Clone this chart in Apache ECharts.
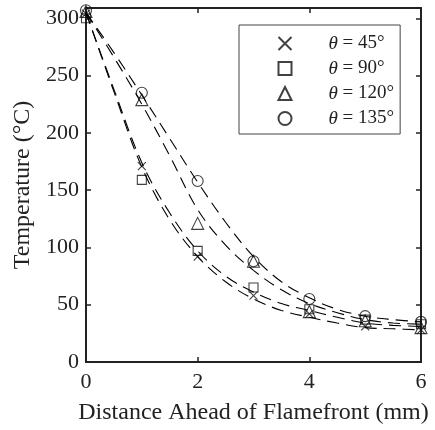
<!DOCTYPE html>
<html><head><meta charset="utf-8">
<script src="https://cdn.jsdelivr.net/npm/echarts@6/dist/echarts.min.js"></script>
<style>html,body{margin:0;padding:0;background:#fff}#c{width:435px;height:430px}</style>
</head><body><div id="c"></div>
<script>
// Measured points
const markerX = [0, 1, 2, 3, 4, 5, 6];
const t45  = [304, 171, 92, 58, 42, 31, 28];
const t90  = [300, 159, 97, 65, 46, 37, 33];
const t120 = [306, 229, 121, 88, 44, 36, 30];
const t135 = [307, 235, 158, 88, 55, 40, 35];
// Dashed fit curves
const curveX = [0, 0.5, 1, 1.5, 2, 2.5, 3, 3.5, 4, 4.5, 5, 5.5, 6];
const c45  = [305, 236, 170, 124, 92, 70, 55, 45, 39, 34, 30, 29, 28];
const c90  = [305, 238, 174, 130, 97, 75, 61, 51, 45, 39, 34, 32, 31];
const c120 = [305, 266, 225, 180, 133, 102, 80, 63, 51, 43, 37, 34, 33];
const c135 = [305, 270, 233, 195, 157, 122, 92, 70, 56, 46, 40, 37, 35];
const names = ['45°', '90°', '120°', '135°'];
const yTicks = [0, 50, 100, 150, 200, 250, 300];

const pts = [t45, t90, t120, t135];
const curves = [c45, c90, c120, c135];
const symbols = ['path://M0,0L10,10M10,0L0,10', 'rect', 'triangle', 'circle'];
const sizes = [8, 9, 12, 11];
const font = '"Liberation Serif", "Times New Roman", serif';

const series = [];
curves.forEach((c, i) => {
  series.push({
    type: 'line', name: 'fit' + i, data: curveX.map((x, k) => [x, c[k]]),
    xAxisIndex: 0, yAxisIndex: 0,
    showSymbol: false, smooth: 0.35, silent: true,
    lineStyle: {color: '#000', width: 1.1, type: [12, 7]}
  });
});
pts.forEach((p, i) => {
  series.push({
    type: 'scatter', name: 'θ = ' + names[i], data: markerX.map((x, k) => [x, p[k]]),
    xAxisIndex: 0, yAxisIndex: 0,
    symbol: symbols[i], symbolSize: sizes[i], clip: false,
    itemStyle: {color: 'none', borderColor: '#111', borderWidth: 1.1}
  });
});

function frame() {
  return {
    axisLine: {show: true, onZero: false, lineStyle: {color: '#222', width: 2}},
    axisTick: {show: true, inside: true, length: 5, lineStyle: {color: '#222', width: 1.5}},
    splitLine: {show: false}
  };
}

const chart = echarts.init(document.getElementById('c'));
chart.setOption({
  animation: false,
  backgroundColor: '#fff',
  grid: {left: 86, right: 14, top: 8, bottom: 68, containLabel: false, outerBoundsMode: 'none'},
  legend: {
    data: names.map(n => 'θ = ' + n),
    orient: 'vertical', left: 239, top: 25,
    itemWidth: 13, itemHeight: 13, itemGap: 6,
    padding: [9, 6, 6, 37],
    borderColor: '#444', borderWidth: 1,
    formatter: n => '{s|}{i|θ}' + n.slice(1),
    textStyle: {fontFamily: font, fontSize: 19, color: '#222', lineHeight: 18,
      rich: {s: {width: 32}, i: {fontStyle: 'italic', fontFamily: font, fontSize: 19, color: '#222'}}}
  },
  xAxis: [
    Object.assign({type: 'value', gridIndex: 0, min: 0, max: 6, interval: 2, position: 'bottom',
      name: 'Distance Ahead of Flamefront (mm)', nameLocation: 'middle', nameGap: 39,
      nameTextStyle: {fontFamily: font, fontSize: 24, color: '#222'},
      axisLabel: {fontFamily: font, fontSize: 22, color: '#222', margin: 9}}, frame()),
    Object.assign({type: 'value', gridIndex: 0, min: 0, max: 6, interval: 2, position: 'top', name: '',
      axisLabel: {show: false}}, frame())
  ],
  yAxis: [
    Object.assign({type: 'value', gridIndex: 0, min: 0, max: 309, interval: 50, position: 'left',
      name: 'Temperature (°C)', nameLocation: 'middle', nameGap: 49,
      nameTextStyle: {fontFamily: font, fontSize: 24, color: '#222'},
      axisLabel: {fontFamily: font, fontSize: 22, color: '#222', margin: 7, showMaxLabel: false,
        formatter: v => yTicks.includes(v) ? String(v) : ''}}, frame()),
    Object.assign({type: 'value', gridIndex: 0, min: 0, max: 309, interval: 50, position: 'right', name: '',
      axisLabel: {show: false}}, frame())
  ],
  series: series
});
</script></body></html>
